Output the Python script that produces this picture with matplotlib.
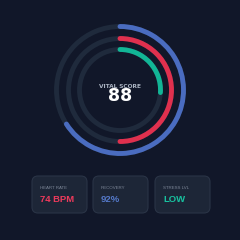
import matplotlib
matplotlib.use("Agg")
import matplotlib.pyplot as plt
from matplotlib.patches import Arc, FancyBboxPatch

# ring progress, outer -> inner (fraction of full circle)
ring_names = ["outer", "middle", "inner"]
ring_values = [0.66, 0.50, 0.26]
ring_colors = ["#4a6cc0", "#e0304e", "#12b596"]

score_label = "VITAL SCORE"
score_value = "88"

card_labels = ["HEART RATE", "RECOVERY", "STRESS LVL"]
card_values = ["74 BPM", "92%", "LOW"]
card_colors = ["#ee3a5c", "#5478c8", "#18c2a0"]

BG = "#111729"
TRACK = "#1f2a3c"

fig = plt.figure(figsize=(2.4, 2.4), dpi=100, facecolor=BG)
ax = fig.add_axes([0, 0, 1, 1])
ax.set_xlim(0, 240)
ax.set_ylim(240, 0)
ax.set_facecolor(BG)
ax.axis("off")

cx, cy = 120, 90
radii = [63.5, 51.5, 40.5]
lw = 3.5
for r, v, c in zip(radii, ring_values, ring_colors):
    ax.add_patch(Arc((cx, cy), 2 * r, 2 * r, theta1=0, theta2=360,
                     color=TRACK, lw=lw))
    # y axis is inverted, so angles run clockwise on screen
    start = -90
    end = start + 360 * v
    ax.add_patch(Arc((cx, cy), 2 * r, 2 * r, theta1=start, theta2=end,
                     color=c, lw=lw, capstyle="round"))

ax.text(cx, 86, score_label, color="#aab3c2", fontsize=4.2, ha="center",
        va="center", fontweight="bold")
ax.text(cx, 96, score_value, color="white", fontsize=12.5, ha="center",
        va="center", fontweight="bold")

card_x = [32, 93, 155]
card_w, card_y, card_h = 55, 176, 37
for x, lab, val, col in zip(card_x, card_labels, card_values, card_colors):
    ax.add_patch(FancyBboxPatch((x, card_y), card_w, card_h,
                                boxstyle="round,pad=0,rounding_size=6",
                                fc="#1d2637", ec="#2a3446", lw=0.8))
    ax.text(x + 8, 188, lab, color="#7d8798", fontsize=3.2,
            ha="left", va="center", family="Liberation Sans")
    ax.text(x + 8, 199.5, val, color=col, fontsize=6.8, fontweight="bold",
            ha="left", va="center", family="Liberation Sans")

fig.savefig("out.png", dpi=100, facecolor=BG)
